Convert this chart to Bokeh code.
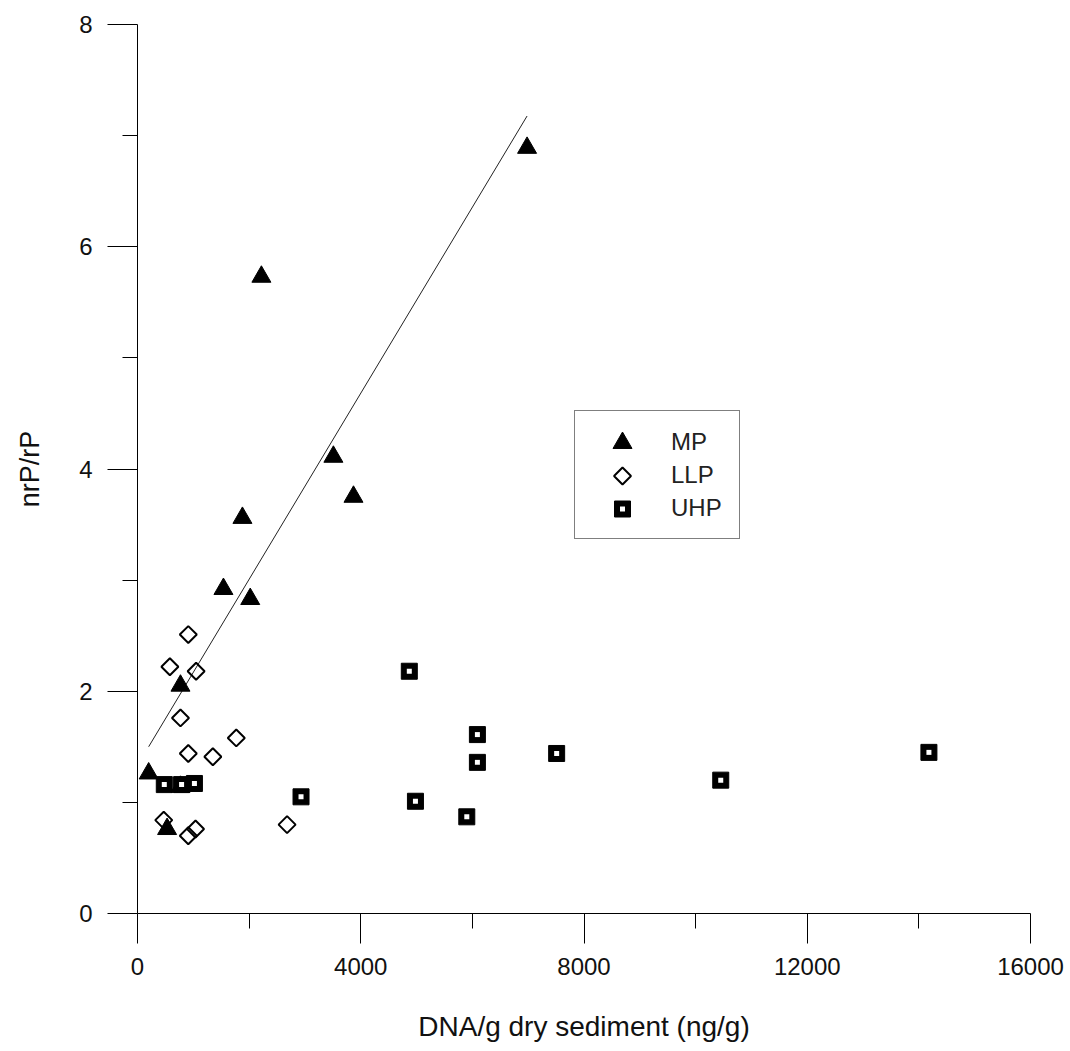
import numpy as np
from bokeh.plotting import figure
from bokeh.models import Range1d, FixedTicker, Legend, LegendItem
from bokeh.embed import file_html
from bokeh.resources import INLINE

# ---- data ----
mp_x = [6980, 2220, 3510, 3870, 1880, 1540, 2020, 770, 200, 770, 530]
mp_y = [6.89, 5.73, 4.11, 3.75, 3.56, 2.92, 2.83, 2.05, 1.26, 1.14, 0.76]

llp_x = [910, 580, 1050, 770, 1770, 910, 1350, 470, 2680, 910, 1040]
llp_y = [2.51, 2.22, 2.18, 1.76, 1.58, 1.44, 1.41, 0.84, 0.80, 0.70, 0.76]

uhp_x = [480, 790, 1020, 2930, 4870, 6090, 6090, 7510, 4980, 5900, 10450, 14180]
uhp_y = [1.16, 1.16, 1.17, 1.05, 2.18, 1.61, 1.36, 1.44, 1.01, 0.87, 1.20, 1.45]

series_names = ["MP", "LLP", "UHP"]

x_ticks = [0, 4000, 8000, 12000, 16000]
x_minor = [2000, 6000, 10000, 14000]
y_ticks = [0, 2, 4, 6, 8]
y_minor = [1, 3, 5, 7]

x_title = "DNA/g dry sediment (ng/g)"
y_title = "nrP/rP"

# legend key positions (data units) – layout only
key_x = [8690, 8690, 8690]
key_y = [4.234, 3.937, 3.640]

FONT = "Liberation Sans"

# linear regression of the MP series
slope, intercept = np.polyfit(mp_x, mp_y, 1)
fit_x = np.array([min(mp_x), max(mp_x)])
fit_y = slope * fit_x + intercept

p = figure(width=1070, height=1051, output_backend="svg", toolbar_location=None,
           x_range=Range1d(0, 16000), y_range=Range1d(0, 8),
           min_border_left=137, min_border_right=40, min_border_top=24,
           min_border_bottom=138)
p.outline_line_color = None
p.grid.visible = False
p.background_fill_color = "white"
p.border_fill_color = "white"

for ax, ticks, minor in ((p.xaxis[0], x_ticks, x_minor), (p.yaxis[0], y_ticks, y_minor)):
    ax.ticker = FixedTicker(ticks=ticks, minor_ticks=minor)
    ax.major_tick_out = 30
    ax.major_tick_in = 0
    ax.minor_tick_out = 15
    ax.minor_tick_in = 0
    ax.axis_line_color = "black"
    ax.major_tick_line_color = "black"
    ax.minor_tick_line_color = "black"
    ax.major_label_text_font = FONT
    ax.major_label_text_font_size = "24px"
    ax.major_label_text_color = "#111111"
    ax.axis_label_text_font = FONT
    ax.axis_label_text_font_style = "normal"
    ax.axis_label_text_color = "#111111"

p.xaxis.axis_label = x_title
p.yaxis.axis_label = y_title
p.xaxis.axis_label_text_font_size = "28px"
p.yaxis.axis_label_text_font_size = "27px"
p.xaxis.major_label_standoff = 14
p.yaxis.major_label_standoff = 15
p.xaxis.axis_label_standoff = 33
p.yaxis.axis_label_standoff = 31

# regression line
p.line(fit_x, fit_y, line_color="#222222", line_width=1)

diamond_style = dict(marker="square", angle=np.pi / 4, size=12,
                     fill_alpha=0, line_color="black", line_width=2)
tri_style = dict(marker="triangle", size=19, fill_color="black",
                 line_color="black", line_width=1)
sq_style = dict(marker="square", size=16, fill_color="black",
                line_color="black", line_width=1)
dot_style = dict(marker="square", size=5, fill_color="white", line_color=None)

# LLP diamonds (open)
llp_r = p.scatter(llp_x, llp_y, **diamond_style)
# MP triangles
mp_r = p.scatter(mp_x, mp_y, **tri_style)
# UHP squares with white centre
uhp_r = p.scatter(uhp_x, uhp_y, **sq_style)
p.scatter(uhp_x, uhp_y, **dot_style)

# legend keys
p.scatter(key_x[0:1], key_y[0:1], **tri_style)
p.scatter(key_x[1:2], key_y[1:2], **diamond_style)
p.scatter(key_x[2:3], key_y[2:3], **sq_style)
p.scatter(key_x[2:3], key_y[2:3], **dot_style)

legend = Legend(items=[LegendItem(label=series_names[0], renderers=[mp_r]),
                       LegendItem(label=series_names[1], renderers=[llp_r]),
                       LegendItem(label=series_names[2], renderers=[uhp_r])],
                location=(437, 374), glyph_width=0, glyph_height=33,
                label_height=33, spacing=0, padding=14, label_standoff=82,
                label_width=54, margin=0,
                border_line_color="black", border_line_width=1,
                background_fill_alpha=0,
                label_text_font=FONT, label_text_font_size="24px",
                label_text_color="#222222")
p.add_layout(legend)

open("out.html", "w").write(file_html(p, INLINE))
